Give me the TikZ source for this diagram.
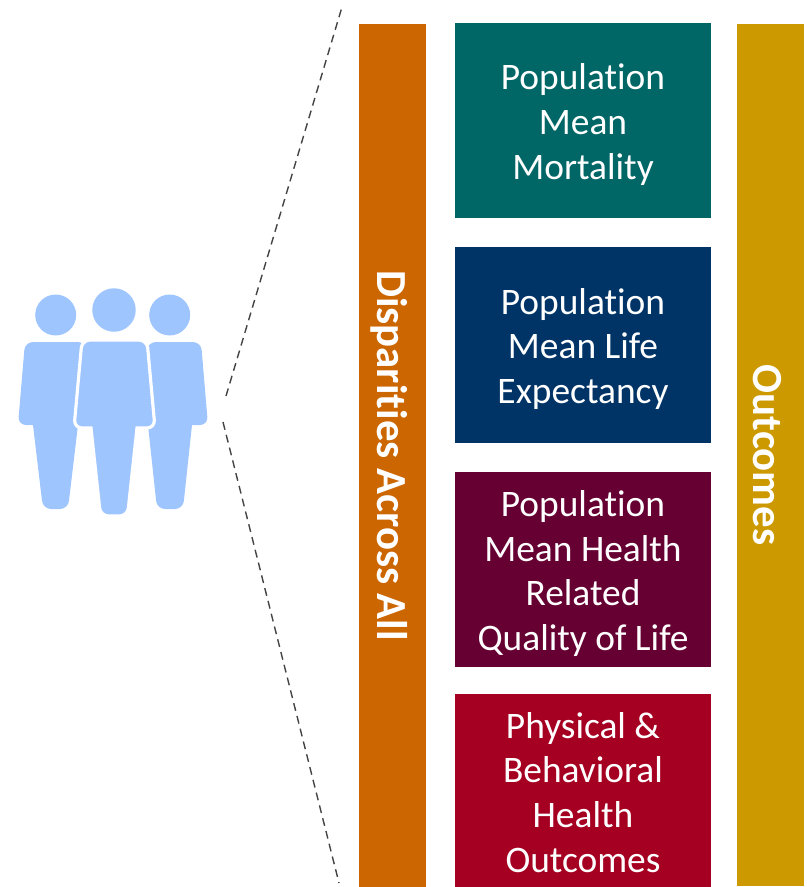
\documentclass[tikz,border=0pt]{standalone}
\usepackage{fontspec}
\setmainfont[Ligatures=NoCommon]{Carlito}
\definecolor{barorange}{HTML}{CC6600}
\definecolor{bargold}{HTML}{CC9900}
\definecolor{boxteal}{HTML}{006666}
\definecolor{boxnavy}{HTML}{003366}
\definecolor{boxmaroon}{HTML}{660033}
\definecolor{boxred}{HTML}{A50021}
\definecolor{personblue}{HTML}{9FC5FF}
\definecolor{dashgray}{HTML}{444444}
\tikzset{
    outcomebox/.style={rectangle, minimum width=5.12cm, minimum height=3.9cm},
    boxtext/.style={text=white, align=center, yshift=-0.08cm, font=\fontsize{21.3}{25.5}\selectfont},
    sidebar/.style={rectangle, minimum width=1.34cm, minimum height=17.26cm},
    bartext/.style={text=white, rotate=-90, yshift=-0.06cm, font=\fontsize{24.4}{29}\selectfont\bfseries},
    zoomline/.style={dashgray, line width=0.8pt, dash pattern=on 4.5pt off 3pt},
    head/.style={circle, fill=personblue, inner sep=0pt},
    person/.style={fill=personblue, rounded corners=0.16cm},
}
\begin{document}
\begin{tikzpicture}[x=0.02cm, y=-0.02cm]
        \useasboundingbox (0, 0) rectangle (807, 887);
        % People
        \node[head, minimum size=0.82cm] (headl) at (55.7, 315) {};
        \node[head, minimum size=0.82cm] (headr) at (169.7, 315) {};
        \node[head, minimum size=0.87cm] (headc) at (114, 310) {};
        \fill[person] (25, 342) -- (86, 342) -- (93, 425) [sharp corners] -- (78, 425) [rounded corners=0.16cm] -- (68, 509) -- (43, 509) [sharp corners] -- (33, 425) [rounded corners=0.16cm] -- (18, 425) -- cycle;
        \fill[person] (148, 342) -- (201, 342) -- (208, 425) [sharp corners] -- (192, 425) [rounded corners=0.16cm] -- (183, 509) -- (157, 509) [sharp corners] -- (148, 425) [rounded corners=0.16cm] -- (133, 425) -- cycle;
        \filldraw[person, draw=white, line width=1.8pt] (82, 340) -- (147, 340) -- (155, 428) [sharp corners] -- (137, 428) [rounded corners=0.16cm] -- (127.5, 516) -- (100.5, 516) [sharp corners] -- (91, 428) [rounded corners=0.16cm] -- (74, 428) -- cycle;
        % Dashed lines
        \coordinate (zooma) at (226, 396);
        \coordinate (zoomb) at (342, 7);
        \coordinate (zoomc) at (223, 422);
        \coordinate (zoomd) at (339, 883);
        \draw[zoomline] (zooma) -- (zoomb);
        \draw[zoomline] (zoomc) -- (zoomd);
        % Bars
        \node[sidebar, fill=barorange] (disparities) at (392.5, 455.5) {};
        \node[sidebar, fill=bargold] (outcomes) at (770.5, 455) {};
        \node[bartext] (disparitiestext) at (disparities) {Disparities Across All};
        \node[bartext] (outcomestext) at (outcomes) {Outcomes};
        % Boxes
        \node[outcomebox, fill=boxteal] (mortality) at (583, 120.5) {};
        \node[outcomebox, fill=boxnavy, minimum height=3.92cm] (expectancy) at (583, 345) {};
        \node[outcomebox, fill=boxmaroon] (quality) at (583, 569.5) {};
        \node[outcomebox, fill=boxred, minimum height=3.86cm] (behavioral) at (583, 790.5) {};
        \node[boxtext] (mortalitytext) at (mortality) {Population\\Mean\\Mortality};
        \node[boxtext] (expectancytext) at (expectancy) {Population\\Mean Life\\Expectancy};
        \node[boxtext] (qualitytext) at (quality) {Population\\Mean Health\\Related\\Quality of Life};
        \node[boxtext, yshift=0.04cm] (behavioraltext) at (behavioral) {Physical \&\\Behavioral\\Health\\Outcomes};
    \end{tikzpicture}
\end{document}
